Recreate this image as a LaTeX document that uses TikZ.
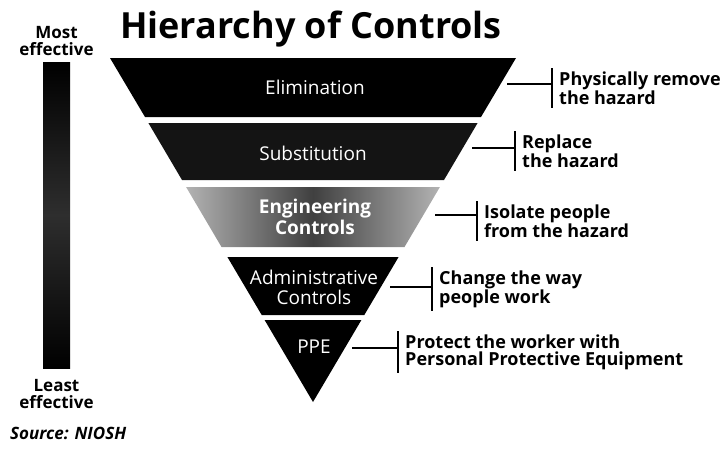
\documentclass[tikz,border=0pt]{standalone}
\usepackage{fontspec}
\setmainfont{Open Sans}
\usetikzlibrary{positioning}

\begin{document}
\begin{tikzpicture}[x=1pt,y=-1pt,
    bandtext/.style={text=white,align=center,inner sep=0pt,font=\fontsize{19}{20}\selectfont},
    note/.style={anchor=west,align=left,inner xsep=7pt,inner ysep=3pt,font=\bfseries\fontsize{18}{17}\selectfont},
    tick/.style={line width=1.5pt},
    ends/.style={align=center,inner sep=0pt,font=\bfseries\fontsize{17}{17}\selectfont}]
\useasboundingbox (0,0) rectangle (727,461);

% title
\node[anchor=base west,inner sep=0pt,font=\bfseries\fontsize{36}{40}\selectfont] (title) at (120,38) {Hierarchy of Controls};

% effectiveness bar on the left
\node[minimum width=27pt,minimum height=306pt,inner sep=0pt,
      top color=black,bottom color=black,middle color=black!82] (bar) at (56.5,215) {};
\node[ends,above=6pt of bar] (most) {Most\\effective};
\node[ends,below=11pt of bar] (least) {Least\\effective};
\node[anchor=west,inner sep=0pt,font=\bfseries\itshape\fontsize{17}{17}\selectfont] (src) at (10,433) {Source: NIOSH};

% the funnel, one band at a time
\fill[black] (110,58) -- (516,58) -- (481,117) -- (145,117) -- cycle;
\fill[black!92] (148.4,123) -- (477.6,123) -- (444,180) -- (182,180) -- cycle;
\shade[left color=black!30,right color=black!30,middle color=black!75] (186.1,187) -- (439.9,187) -- (404.5,247) -- (221.5,247) -- cycle;
\fill[black] (227.4,257) -- (398.6,257) -- (364.3,315) -- (261.7,315) -- cycle;
\fill[black] (264.6,320) -- (361.4,320) -- (313,402) -- cycle;

\node[bandtext] (elim) at (315,87) {Elimination};
\node[bandtext] (subst) at (313,153) {Substitution};
\node[bandtext,font=\bfseries\fontsize{19}{21}\selectfont] (eng) at (315,217) {Engineering\\Controls};
\node[bandtext] (admin) at (314,287) {Administrative\\Controls};
\node[bandtext] (ppe) at (314,347) {PPE};

% notes on the right
\node[note] (elimnote) at (552,88) {Physically remove\\the hazard};
\node[note] (substnote) at (515,151) {Replace\\the hazard};
\node[note] (engnote) at (477,221) {Isolate people\\from the hazard};
\node[note] (adminnote) at (432,289) {Change the way\\people work};
\node[note] (ppenote) at (398,352) {Protect the worker with\\Personal Protective Equipment};

\coordinate (elimR) at (507,84);
\coordinate (substR) at (472,148);
\coordinate (engR) at (435,215);
\coordinate (adminR) at (390,287);
\coordinate (ppeR) at (352,348);

\draw[tick] (elimR) -- (elimR -| elimnote.west);
\draw[tick] (substR) -- (substR -| substnote.west);
\draw[tick] (engR) -- (engR -| engnote.west);
\draw[tick] (adminR) -- (adminR -| adminnote.west);
\draw[tick] (ppeR) -- (ppeR -| ppenote.west);

\draw[tick] (elimnote.north west) -- (elimnote.south west);
\draw[tick] (substnote.north west) -- (substnote.south west);
\draw[tick] (engnote.north west) -- (engnote.south west);
\draw[tick] (adminnote.north west) -- (adminnote.south west);
\draw[tick] (ppenote.north west) -- (ppenote.south west);
\end{tikzpicture}
\end{document}
